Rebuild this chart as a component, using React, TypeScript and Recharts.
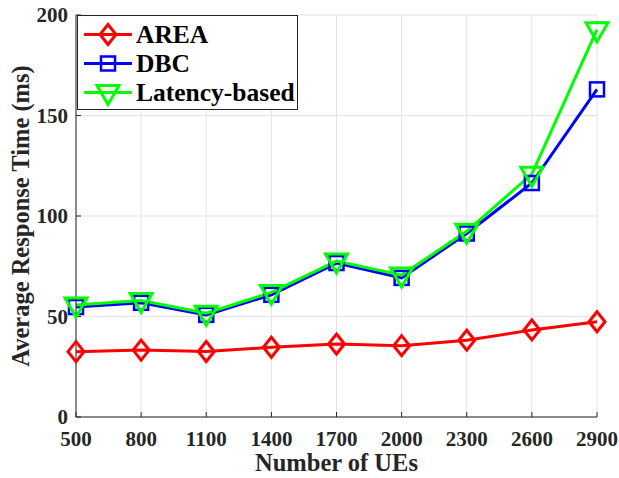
import React from 'react';
import { LineChart, Line, XAxis, YAxis, CartesianGrid } from 'recharts';

const ues = [500, 800, 1100, 1400, 1700, 2000, 2300, 2600, 2900];
const area = [32.5, 33.3, 32.6, 34.7, 36.3, 35.5, 38.2, 43.3, 47.4];
const dbc = [54.7, 56.8, 50.8, 60.8, 76.6, 69.2, 91.3, 116.4, 163];
const latency = [55.7, 58.0, 51.6, 62.0, 77.6, 70.6, 92.4, 120.8, 192.7];
const yTicks = [0, 50, 100, 150, 200];

const data = ues.map((u, i) => ({ ues: u, area: area[i], dbc: dbc[i], latency: latency[i] }));

const FONT = '"Liberation Serif", "Times New Roman", serif';
const AXIS = '#262626';

const Diamond = ({ cx, cy, color }: any) => (
  <path d={`M${cx},${cy - 10} L${cx + 8},${cy} L${cx},${cy + 10} L${cx - 8},${cy} Z`} fill="none" stroke={color} strokeWidth={3} />
);
const Square = ({ cx, cy, color }: any) => (
  <rect x={cx - 7} y={cy - 7} width={14} height={14} fill="none" stroke={color} strokeWidth={2.5} />
);
const TriDown = ({ cx, cy, color }: any) => (
  <path d={`M${cx - 11},${cy - 7} L${cx + 11},${cy - 7} L${cx},${cy + 12} Z`} fill="none" stroke={color} strokeWidth={3} />
);

const legendItems = [
  { name: 'AREA', color: '#ff0000', Icon: Diamond },
  { name: 'DBC', color: '#0000ff', Icon: Square },
  { name: 'Latency-based', color: '#00ff00', Icon: TriDown },
];

const LegendBox = () => (
  <div style={{ position: 'absolute', left: 77, top: 15, border: '1px solid #262626', background: '#fff', width: 221, height: 95, boxSizing: 'border-box', fontFamily: FONT, fontWeight: 'bold', fontSize: 25.5, color: '#000' }}>
    {legendItems.map((it, i) => (
      <div key={it.name} style={{ display: 'flex', alignItems: 'center', height: 29, marginTop: i === 0 ? 4 : 0 }}>
        <svg width={52} height={29} style={{ marginLeft: 4 }}>
          <line x1={2} y1={14.5} x2={50} y2={14.5} stroke={it.color} strokeWidth={3} />
          <it.Icon cx={26} cy={14.5} color={it.color} />
        </svg>
        <span style={{ marginLeft: 2 }}>{it.name}</span>
      </div>
    ))}
  </div>
);

const XLabel = ({ viewBox }: any) => (
  <text x={viewBox.x + viewBox.width / 2} y={471} textAnchor="middle" fill={AXIS} fontFamily={FONT} fontWeight="bold" fontSize={24.5}>
    Number of UEs
  </text>
);

const YLabel = () => {
  const cx = 29;
  const cy = 216;
  return (
    <text x={cx} y={cy} transform={`rotate(-90, ${cx}, ${cy})`} textAnchor="middle" fill={AXIS} fontFamily={FONT} fontWeight="bold" fontSize={24.5}>
      Average Response Time (ms)
    </text>
  );
};

export default function App() {
  return (
    <div style={{ position: 'absolute', left: 0, top: 0, background: '#fff' }}>
      <LineChart width={619} height={478} data={data} margin={{ top: 15, right: 22, bottom: 0, left: 0 }}>
        <CartesianGrid stroke="#e3e3e3" strokeWidth={1} />
        <XAxis
          dataKey="ues"
          type="number"
          domain={[500, 2900]}
          ticks={ues}
          height={61}
          stroke={AXIS}
          tickSize={-5}
          tickMargin={19}
          tick={{ fill: AXIS, fontFamily: FONT, fontWeight: 'bold', fontSize: 21 }}
          label={<XLabel />}
        />
        <XAxis xAxisId="top" orientation="top" dataKey="ues" type="number" domain={[500, 2900]} ticks={ues} height={0} stroke={AXIS} tick={false} tickSize={-5} />
        <YAxis
          domain={[0, 200]}
          ticks={yTicks}
          width={76}
          stroke={AXIS}
          tickSize={-5}
          tickMargin={13}
          tick={{ fill: AXIS, fontFamily: FONT, fontWeight: 'bold', fontSize: 21 }}
          label={<YLabel />}
        />
        <YAxis yAxisId="right" orientation="right" domain={[0, 200]} ticks={yTicks} width={0} stroke={AXIS} tick={false} tickSize={-5} />
        <Line dataKey="area" stroke="#ff0000" strokeWidth={3} isAnimationActive={false} dot={(p: any) => <Diamond key={`a${p.index}`} cx={p.cx} cy={p.cy} color="#ff0000" />} />
        <Line dataKey="dbc" stroke="#0000ff" strokeWidth={3} isAnimationActive={false} dot={(p: any) => <Square key={`d${p.index}`} cx={p.cx} cy={p.cy} color="#0000ff" />} />
        <Line dataKey="latency" stroke="#00ff00" strokeWidth={3} isAnimationActive={false} dot={(p: any) => <TriDown key={`l${p.index}`} cx={p.cx} cy={p.cy} color="#00ff00" />} />
      </LineChart>
      <LegendBox />
    </div>
  );
}
